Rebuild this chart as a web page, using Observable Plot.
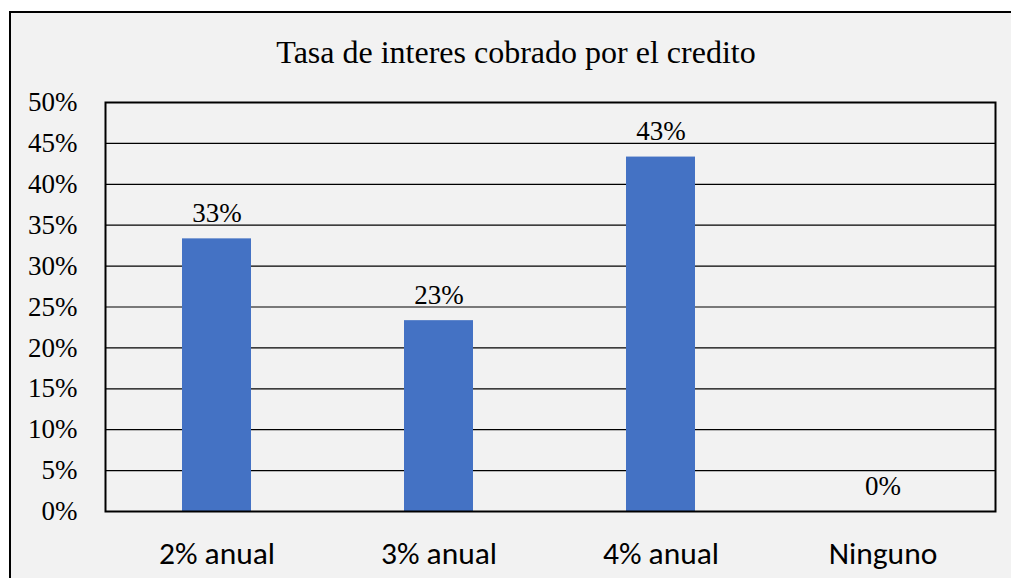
<!DOCTYPE html>
<html>
<head>
<meta charset="utf-8">
<script src="https://cdn.jsdelivr.net/npm/d3@7"></script>
<script src="https://cdn.jsdelivr.net/npm/@observablehq/plot@0.6"></script>
<style>
  html, body { margin: 0; padding: 0; background: #ffffff; width: 1011px; height: 578px; overflow: hidden; }
  #box { position: absolute; left: 9px; top: 11px; width: 1100px; height: 700px;
         border-left: 2.5px solid #000; border-top: 2.5px solid #000; background: #f2f2f2; box-sizing: border-box; }
  #title { position: absolute; left: 0; width: 1032px; top: 30px; text-align: center;
           font-family: "Liberation Serif", "Times New Roman", serif; font-size: 32px; color: #000; line-height: 44px; }
  #chart { position: absolute; left: 0; top: 0; }
</style>
</head>
<body>
<div id="box"></div>
<div id="title">Tasa de interes cobrado por el credito</div>
<div id="chart"></div>
<script>
const categories = ["2% anual", "3% anual", "4% anual", "Ninguno"];
const values = [0.3333, 0.2333, 0.4333, 0];
const yTicks = [0, 0.05, 0.10, 0.15, 0.20, 0.25, 0.30, 0.35, 0.40, 0.45, 0.50];

const data = categories.map((c, i) => ({category: c, value: values[i]}));
const pct = d3.format(".0%");
const serif = "'Liberation Serif', 'Times New Roman', serif";

const chart = Plot.plot({
  width: 1011,
  height: 578,
  marginLeft: 105,
  marginRight: 16,
  marginTop: 102,
  marginBottom: 67,
  style: {background: "transparent", overflow: "visible"},
  x: {domain: categories, paddingInner: 0.687, paddingOuter: 0.3435, label: null},
  y: {domain: [0, 0.5], label: null},
  marks: [
    Plot.ruleY(yTicks, {stroke: "#000", strokeWidth: 1.2, strokeOpacity: 1}),
    Plot.barY(data, {x: "category", y: "value", fill: "#4472c4"}),
    Plot.text(data, {x: "category", y: "value", text: d => pct(d.value), lineAnchor: "bottom", dy: -17,
      fontSize: 27, fontFamily: serif, fill: "#000"}),
    Plot.axisY({ticks: yTicks, tickFormat: pct, tickSize: 0, tickPadding: 28, label: null,
      fontSize: 27, fontFamily: serif, fill: "#000"}),
    Plot.axisX({tickSize: 0, tickPadding: 30, label: null,
      fontSize: 31.5, fontFamily: "Carlito, 'Liberation Sans', Arial, sans-serif", fill: "#000"}),
    Plot.frame({stroke: "#000", strokeWidth: 2})
  ]
});
document.getElementById("chart").appendChild(chart);
</script>
</body>
</html>
